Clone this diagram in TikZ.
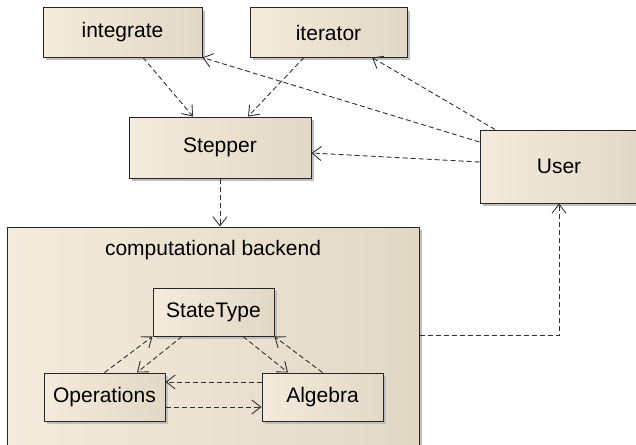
\documentclass[tikz,border=0pt]{standalone}
\usepackage{fontspec}
\setmainfont{Liberation Sans}
\usetikzlibrary{arrows.meta,shadows,calc}
\definecolor{bxL}{HTML}{F4EBDC}
\definecolor{bxM}{HTML}{FBF3E6}
\definecolor{bxR}{HTML}{E2D8C6}
\definecolor{lnC}{HTML}{303030}
\tikzset{
  umlbox/.style={draw=black!85, line width=1pt, left color=bxL, middle color=bxM, right color=bxR,
    general shadow={shadow xshift=3pt, shadow yshift=-3pt, fill=black!25},
    font=\fontsize{21}{23}\selectfont, inner sep=0pt},
  dep/.style={draw=lnC, line width=0.9pt, dash pattern=on 5pt off 3pt,
    -{Straight Barb[length=9pt,width=14pt,line width=0.9pt]}}
}
\begin{document}
\begin{tikzpicture}[x=1pt,y=-1pt]
\useasboundingbox (0,0) rectangle (636,444);
\clip (0,0) rectangle (636,444);
% backend
\node[umlbox, minimum width=412pt, minimum height=233pt] (backend) at (213,343.5) {};
\node[font=\fontsize{21}{23}\selectfont, inner sep=0pt] (title) at (213,250) {computational backend};
% boxes
\node[umlbox, minimum width=159pt, minimum height=49pt] (integrate) at (122.5,32.5) {integrate};
\node[umlbox, minimum width=157pt, minimum height=49pt] (iterator) at (328.5,32.5) {iterator};
\node[umlbox, minimum width=182pt, minimum height=61pt] (Stepper) at (220,147.5) {Stepper};
\node[umlbox, minimum width=158pt, minimum height=73pt] (User) at (559,166.5) {User};
\node[umlbox, minimum width=121pt, minimum height=48pt] (StateType) at (213.5,312) {StateType};
\node[umlbox, minimum width=121pt, minimum height=48pt] (Operations) at (104.5,397) {Operations};
\node[umlbox, minimum width=121pt, minimum height=48pt] (Algebra) at (322.5,397) {Algebra};
% connectors
\draw[dep] ($(integrate.south)+(20.5,0)$) -- ($(Stepper.north)+(-27,0)$);
\draw[dep] ($(iterator.south)+(-24.5,0)$) -- ($(Stepper.north)+(28,0)$);
\draw[dep] ($(User.west)+(0,-24.5)$) -- (integrate.south east);
\draw[dep] ($(User.north)+(-64,0)$) -- ($(iterator.south)+(43.5,0)$);
\draw[dep] ($(User.west)+(0,-4.5)$) -- ($(Stepper.east)+(0,5.5)$);
\draw[dep] (Stepper.south) -- (Stepper.south |- backend.north);
\draw[dep] ($(backend.east)+(0,-8.5)$) -| (User.south);
\draw[dep] (Operations.north) -- (StateType.south west);
\draw[dep] ($(StateType.south)+(-31.5,0)$) -- ($(Operations.north)+(32.5,0)$);
\draw[dep] ($(StateType.south)+(29.5,0)$) -- ($(Algebra.north)+(-34.5,0)$);
\draw[dep] (Algebra.north) -- (StateType.south east);
\draw[dep] ($(Algebra.west)+(0,-15)$) -- ($(Operations.east)+(0,-15)$);
\draw[dep] ($(Operations.east)+(0,10)$) -- ($(Algebra.west)+(0,10)$);
\end{tikzpicture}
\end{document}
